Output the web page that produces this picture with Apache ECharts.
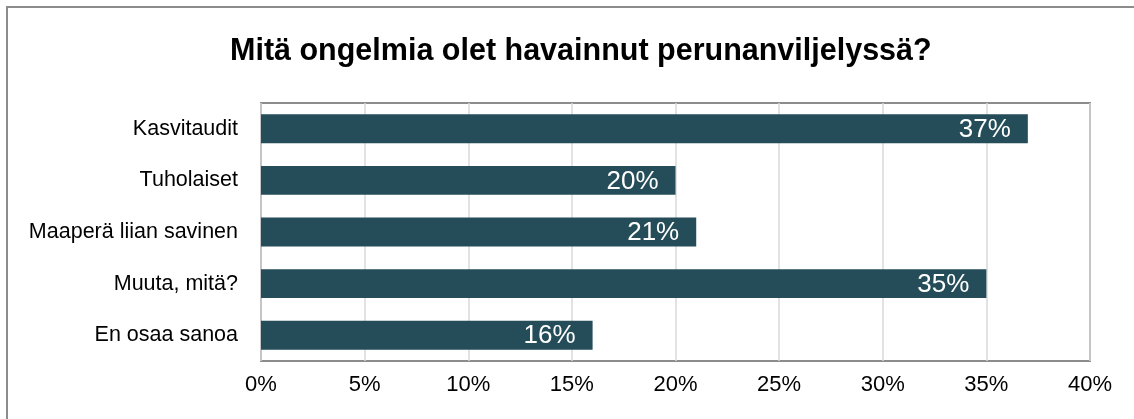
<!DOCTYPE html>
<html>
<head>
<meta charset="utf-8">
<script src="https://cdn.jsdelivr.net/npm/echarts@6/dist/echarts.min.js"></script>
<style>
  html, body { margin: 0; padding: 0; background: #fff; }
  #chart { width: 1134px; height: 419px; }
</style>
</head>
<body>
<div id="chart"></div>
<script>
// kategoriat ylhäältä alas
const categories = ["Kasvitaudit", "Tuholaiset", "Maaperä liian savinen", "Muuta, mitä?", "En osaa sanoa"];
const values = [37, 20, 21, 35, 16];
const xTicks = [0, 5, 10, 15, 20, 25, 30, 35, 40];

const font = '"Liberation Sans", Arial, sans-serif';

const chart = echarts.init(document.getElementById("chart"));

const option = {
  backgroundColor: "#fff",
  animation: false,
  title: {
    text: "Mitä ongelmia olet havainnut perunanviljelyssä?",
    left: 225,
    top: 31,
    textStyle: { fontFamily: font, fontWeight: "bold", fontSize: 30.5, color: "#000" }
  },
  graphic: [
    {
      type: "rect",
      shape: { x: 7, y: 7, width: 1200, height: 500 },
      style: { fill: "none", stroke: "#8c8c8c", lineWidth: 2 },
      silent: true
    }
  ],
  grid: {
    left: 261,
    right: 44,
    top: 103,
    bottom: 58,
    show: true,
    borderColor: "#8c8c8c",
    borderWidth: 2,
    backgroundColor: "transparent"
  },
  xAxis: {
    type: "value",
    min: xTicks[0],
    max: xTicks[xTicks.length - 1],
    interval: 5,
    axisLine: { show: false },
    axisTick: { show: false },
    splitLine: { show: true, lineStyle: { color: "#d9d9d9", width: 1.5 } },
    axisLabel: {
      formatter: "{value}%",
      fontFamily: font,
      fontSize: 22,
      color: "#000",
      margin: 13
    }
  },
  yAxis: {
    type: "category",
    inverse: true,
    data: categories,
    axisLine: { show: false },
    axisTick: { show: false },
    axisLabel: {
      fontFamily: font,
      fontSize: 21.5,
      color: "#000",
      margin: 23
    }
  },
  series: [
    {
      type: "bar",
      data: values,
      barWidth: "56%",
      itemStyle: { color: "#244d59" },
      label: {
        show: true,
        position: "insideRight",
        offset: [-12, 1],
        formatter: "{c}%",
        color: "#fff",
        fontFamily: font,
        fontSize: 26
      }
    }
  ]
};

chart.setOption(option);
</script>
</body>
</html>
